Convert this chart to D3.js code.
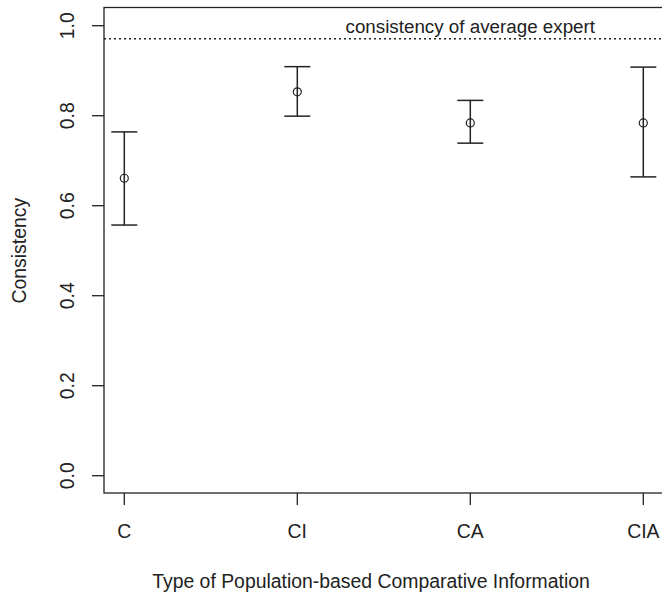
<!DOCTYPE html>
<html>
<head>
<meta charset="utf-8">
<script src="https://cdn.jsdelivr.net/npm/d3@7"></script>
<style>
  body { margin: 0; background: #fff; }
  svg { display: block; font-family: "Liberation Sans", Arial, sans-serif; }
</style>
</head>
<body>
<div id="chart"></div>
<script>
// categories and values
const categories = ['C', 'CI', 'CA', 'CIA'];
const means = [0.661, 0.853, 0.784, 0.784];
const lower = [0.557, 0.799, 0.739, 0.664];
const upper = [0.764, 0.909, 0.834, 0.908];
const yTicks = [0.0, 0.2, 0.4, 0.6, 0.8, 1.0];
const expertLevel = 0.971;
const expertLabel = 'consistency of average expert';

const width = 662, height = 595;
const box = { left: 104, top: 7.5, right: 690, bottom: 493 };
const ink = '#222';
const fs = 19.4;

const svg = d3.select('#chart').append('svg')
  .attr('width', width)
  .attr('height', height);

// x: category index -> pixel
const x = d3.scaleLinear().domain([0, 3]).range([124.3, 643.3]);
const y = d3.scaleLinear().domain([0, 1]).range([475.7, 25.7]);

// plot frame
svg.append('rect')
  .attr('x', box.left).attr('y', box.top)
  .attr('width', box.right - box.left).attr('height', box.bottom - box.top)
  .attr('fill', 'none').attr('stroke', ink).attr('stroke-width', 1.3);

// y axis
const yAxis = svg.append('g');
yTicks.forEach(t => {
  yAxis.append('line')
    .attr('x1', box.left - 12).attr('x2', box.left)
    .attr('y1', y(t)).attr('y2', y(t))
    .attr('stroke', ink).attr('stroke-width', 1.3);
  yAxis.append('text')
    .attr('transform', `translate(74,${y(t)}) rotate(-90)`)
    .attr('text-anchor', 'middle')
    .attr('font-size', fs).attr('fill', ink)
    .text(t.toFixed(1));
});

// x axis
const xAxis = svg.append('g');
categories.forEach((c, i) => {
  xAxis.append('line')
    .attr('x1', x(i)).attr('x2', x(i))
    .attr('y1', box.bottom).attr('y2', box.bottom + 12)
    .attr('stroke', ink).attr('stroke-width', 1.3);
  xAxis.append('text')
    .attr('x', x(i)).attr('y', 538)
    .attr('text-anchor', 'middle')
    .attr('font-size', fs).attr('fill', ink)
    .text(c);
});

// axis titles
svg.append('text')
  .attr('x', 371).attr('y', 588)
  .attr('text-anchor', 'middle')
  .attr('font-size', fs).attr('fill', ink)
  .text('Type of Population-based Comparative Information');

svg.append('text')
  .attr('transform', `translate(26,${y(0.5)}) rotate(-90)`)
  .attr('text-anchor', 'middle')
  .attr('font-size', fs).attr('fill', ink)
  .text('Consistency');

// expert reference line
svg.append('line')
  .attr('x1', box.left).attr('x2', width)
  .attr('y1', y(expertLevel)).attr('y2', y(expertLevel))
  .attr('stroke', ink).attr('stroke-width', 1.5)
  .attr('stroke-dasharray', '2,3');

svg.append('text')
  .attr('x', 595).attr('y', 33)
  .attr('text-anchor', 'end')
  .attr('font-size', 18.8).attr('fill', ink)
  .text(expertLabel);

// error bars
const bars = svg.append('g')
  .selectAll('g')
  .data(categories.map((c, i) => ({ c, i, m: means[i], lo: lower[i], hi: upper[i] })))
  .enter().append('g');

bars.append('line')
  .attr('x1', d => x(d.i)).attr('x2', d => x(d.i))
  .attr('y1', d => y(d.lo)).attr('y2', d => y(d.hi))
  .attr('stroke', ink).attr('stroke-width', 1.5);

['lo', 'hi'].forEach(k => {
  bars.append('line')
    .attr('x1', d => x(d.i) - 13).attr('x2', d => x(d.i) + 13)
    .attr('y1', d => y(d[k])).attr('y2', d => y(d[k]))
    .attr('stroke', ink).attr('stroke-width', 1.5);
});

bars.append('circle')
  .attr('cx', d => x(d.i)).attr('cy', d => y(d.m))
  .attr('r', 4)
  .attr('fill', 'none').attr('stroke', ink).attr('stroke-width', 1.2);
</script>
</body>
</html>
